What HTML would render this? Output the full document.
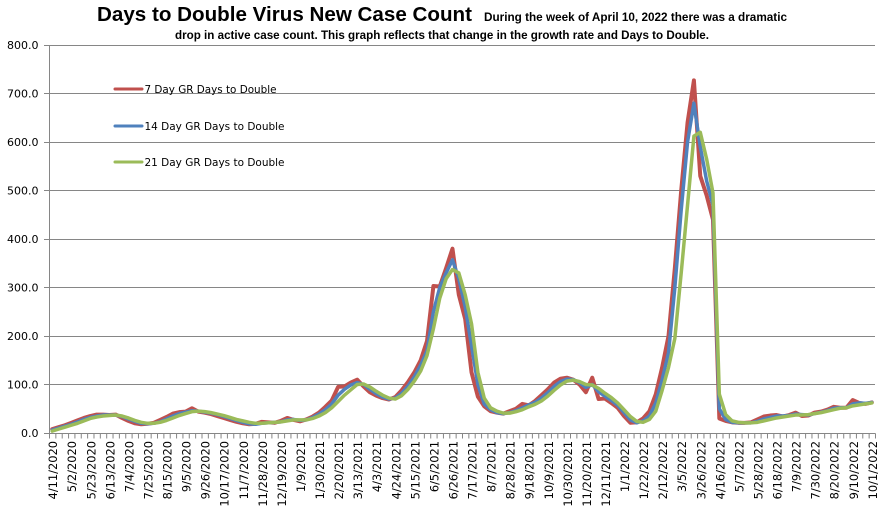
<!DOCTYPE html>
<html>
<head>
<meta charset="utf-8">
<style>
html,body{margin:0;padding:0;background:#fff;}
svg{display:block;}
.ax{font-family:"DejaVu Sans","Liberation Sans",sans-serif;font-size:11px;fill:#000;}
.xl{font-family:"DejaVu Sans","Liberation Sans",sans-serif;font-size:11.4px;fill:#000;}
.lg{font-family:"DejaVu Sans","Liberation Sans",sans-serif;font-size:11px;fill:#000;}
</style>
</head>
<body>
<svg width="887" height="524" viewBox="0 0 887 524" xmlns="http://www.w3.org/2000/svg">
<rect x="0" y="0" width="887" height="524" fill="#fff"/>

<!-- Title -->
<text x="97" y="21" font-family="Liberation Sans, sans-serif" font-weight="bold" font-size="20" textLength="375" lengthAdjust="spacingAndGlyphs">Days to Double Virus New Case Count</text>
<text x="484" y="21" font-family="Liberation Sans, sans-serif" font-weight="bold" font-size="11.5" textLength="303" lengthAdjust="spacingAndGlyphs">During the week of April 10, 2022 there was a dramatic</text>
<text x="175" y="39" font-family="Liberation Sans, sans-serif" font-weight="bold" font-size="11.5" textLength="534" lengthAdjust="spacingAndGlyphs">drop in active case count.  This graph reflects that change in the growth rate and Days to Double.</text>

<!-- Gridlines -->
<g stroke="#868686" stroke-width="1">
<line x1="44" y1="45.5" x2="875" y2="45.5"/>
<line x1="44" y1="93.5" x2="875" y2="93.5"/>
<line x1="44" y1="142.5" x2="875" y2="142.5"/>
<line x1="44" y1="190.5" x2="875" y2="190.5"/>
<line x1="44" y1="239.5" x2="875" y2="239.5"/>
<line x1="44" y1="287.5" x2="875" y2="287.5"/>
<line x1="44" y1="336.5" x2="875" y2="336.5"/>
<line x1="44" y1="384.5" x2="875" y2="384.5"/>
<line x1="44" y1="433.5" x2="875.5" y2="433.5"/>
<line x1="49.5" y1="45" x2="49.5" y2="433.5"/>
<line x1="49" y1="436" x2="876" y2="436" stroke-width="5" stroke-dasharray="1 5.3538"/>
</g>

<!-- Y labels -->
<g class="ax" text-anchor="end">
<text x="38.5" y="49">800.0</text>
<text x="38.5" y="97.5">700.0</text>
<text x="38.5" y="146">600.0</text>
<text x="38.5" y="194.5">500.0</text>
<text x="38.5" y="243">400.0</text>
<text x="38.5" y="291.5">300.0</text>
<text x="38.5" y="340">200.0</text>
<text x="38.5" y="388.5">100.0</text>
<text x="38.5" y="437">0.0</text>
</g>

<!-- X labels -->
<g class="xl" text-anchor="end">
<text transform="translate(57.2,441) rotate(-90)">4/11/2020</text>
<text transform="translate(76.2,441) rotate(-90)">5/2/2020</text>
<text transform="translate(95.3,441) rotate(-90)">5/23/2020</text>
<text transform="translate(114.4,441) rotate(-90)">6/13/2020</text>
<text transform="translate(133.4,441) rotate(-90)">7/4/2020</text>
<text transform="translate(152.5,441) rotate(-90)">7/25/2020</text>
<text transform="translate(171.5,441) rotate(-90)">8/15/2020</text>
<text transform="translate(190.6,441) rotate(-90)">9/5/2020</text>
<text transform="translate(209.7,441) rotate(-90)">9/26/2020</text>
<text transform="translate(228.7,441) rotate(-90)">10/17/2020</text>
<text transform="translate(247.8,441) rotate(-90)">11/7/2020</text>
<text transform="translate(266.9,441) rotate(-90)">11/28/2020</text>
<text transform="translate(285.9,441) rotate(-90)">12/19/2020</text>
<text transform="translate(305.0,441) rotate(-90)">1/9/2021</text>
<text transform="translate(324.0,441) rotate(-90)">1/30/2021</text>
<text transform="translate(343.1,441) rotate(-90)">2/20/2021</text>
<text transform="translate(362.2,441) rotate(-90)">3/13/2021</text>
<text transform="translate(381.2,441) rotate(-90)">4/3/2021</text>
<text transform="translate(400.3,441) rotate(-90)">4/24/2021</text>
<text transform="translate(419.3,441) rotate(-90)">5/15/2021</text>
<text transform="translate(438.4,441) rotate(-90)">6/5/2021</text>
<text transform="translate(457.5,441) rotate(-90)">6/26/2021</text>
<text transform="translate(476.5,441) rotate(-90)">7/17/2021</text>
<text transform="translate(495.6,441) rotate(-90)">8/7/2021</text>
<text transform="translate(514.7,441) rotate(-90)">8/28/2021</text>
<text transform="translate(533.7,441) rotate(-90)">9/18/2021</text>
<text transform="translate(552.8,441) rotate(-90)">10/9/2021</text>
<text transform="translate(571.8,441) rotate(-90)">10/30/2021</text>
<text transform="translate(590.9,441) rotate(-90)">11/20/2021</text>
<text transform="translate(610.0,441) rotate(-90)">12/11/2021</text>
<text transform="translate(629.0,441) rotate(-90)">1/1/2022</text>
<text transform="translate(648.1,441) rotate(-90)">1/22/2022</text>
<text transform="translate(667.1,441) rotate(-90)">2/12/2022</text>
<text transform="translate(686.2,441) rotate(-90)">3/5/2022</text>
<text transform="translate(705.3,441) rotate(-90)">3/26/2022</text>
<text transform="translate(724.3,441) rotate(-90)">4/16/2022</text>
<text transform="translate(743.4,441) rotate(-90)">5/7/2022</text>
<text transform="translate(762.4,441) rotate(-90)">5/28/2022</text>
<text transform="translate(781.5,441) rotate(-90)">6/18/2022</text>
<text transform="translate(800.6,441) rotate(-90)">7/9/2022</text>
<text transform="translate(819.6,441) rotate(-90)">7/30/2022</text>
<text transform="translate(838.7,441) rotate(-90)">8/20/2022</text>
<text transform="translate(857.8,441) rotate(-90)">9/10/2022</text>
<text transform="translate(876.8,441) rotate(-90)">10/1/2022</text>
</g>

<!-- Series -->
<g transform="translate(52.177,433) scale(6.3538,-0.485)" fill="none" stroke-linejoin="round" stroke-linecap="round">
<polyline vector-effect="non-scaling-stroke" stroke="#C0504D" stroke-width="4" points="0,8 1,12 2,16 3,21 4,26 5,31 6,35 7,38 8,38 9,37 10,38 11,31 12,25 13,20 14,18 15,19 16,21 17,27 18,33 19,40 20,43 21,44 22,51 23,44 24,42 25,39 26,35 27,31 28,27 29,23 30,20 31,18 32,19 33,23 34,22 35,21 36,25 37,31 38,27 39,24 40,28 41,34 42,42 43,54 44,67 45,95 46,96 47,104 48,110 49,96 50,84 51,77 52,72 53,69 54,74 55,88 56,105 57,125 58,150 59,190 60,303 61,302 62,340 63,380 64,285 65,235 66,125 67,75 68,55 69,45 70,42 71,40 72,45 73,50 74,60 75,57 76,66 77,78 78,90 79,104 80,112 81,114 82,110 83,100 84,84 85,114 86,70 87,71 88,62 89,52 90,35 91,21 92,22 93,30 94,45 95,80 96,135 97,200 98,340 99,500 100,640 101,727 102,530 103,490 104,440 105,30 106,25 107,22 108,21 109,21 110,22 111,28 112,34 113,36 114,37 115,34 116,37 117,42 118,35 119,36 120,42 121,44 122,48 123,54 124,52 125,52 126,68 127,62 128,60 129,63"/>
<polyline vector-effect="non-scaling-stroke" stroke="#4F81BD" stroke-width="3.5" points="0,6 1,10 2,14 3,18 4,23 5,28 6,32 7,35 8,37 9,37 10,37 11,34 12,29 13,24 14,20 15,19 16,20 17,23 18,29 19,35 20,40 21,43 22,46 23,45 24,43 25,41 26,38 27,34 28,30 29,26 30,22 31,19 32,18 33,20 34,21 35,22 36,23 37,27 38,28 39,26 40,27 41,32 42,39 43,48 44,60 45,78 46,90 47,99 48,104 49,100 50,90 51,81 52,74 53,70 54,72 55,82 56,97 57,116 58,140 59,170 60,250 61,300 62,330 63,357 64,318 65,260 66,180 67,100 68,60 69,48 70,42 71,40 72,42 73,46 74,52 75,58 76,63 77,72 78,83 79,96 80,106 81,111 82,110 83,104 84,94 85,100 86,85 87,76 88,67 89,57 90,42 91,27 92,21 93,25 94,35 95,62 96,110 97,165 98,300 99,460 100,600 101,680 102,590 103,520 104,470 105,50 106,28 107,22 108,21 109,21 110,21 111,24 112,29 113,32 114,35 115,35 116,36 117,39 118,38 119,37 120,40 121,43 122,46 123,51 124,52 125,52 126,60 127,62 128,61 129,63"/>
<polyline vector-effect="non-scaling-stroke" stroke="#9BBB59" stroke-width="3.5" points="0,4 1,8 2,12 3,16 4,20 5,25 6,30 7,33 8,35 9,36 10,37 11,35 12,31 13,26 14,22 15,20 16,20 17,22 18,26 19,31 20,36 21,40 22,44 23,45 24,44 25,42 26,39 27,36 28,32 29,28 30,25 31,22 32,20 33,20 34,21 35,22 36,23 37,25 38,27 39,27 40,27 41,30 42,35 43,42 44,52 45,65 46,78 47,89 48,100 49,101 50,95 51,86 52,78 53,72 54,70 55,77 56,90 57,107 58,128 59,160 60,215 61,278 62,318 63,337 64,330 65,285 66,225 67,125 68,72 69,52 70,45 71,41 72,41 73,44 74,48 75,54 76,59 77,66 78,76 79,88 80,99 81,107 82,109 83,106 84,100 85,99 86,92 87,82 88,73 89,62 90,48 91,34 92,24 93,22 94,28 95,45 96,88 97,135 98,195 99,330 100,470 101,612 102,620 103,565 104,495 105,80 106,38 107,25 108,22 109,21 110,21 111,22 112,25 113,28 114,31 115,33 116,35 117,37 118,37 119,38 120,40 121,42 122,45 123,48 124,51 125,52 126,56 127,58 128,60 129,62"/>
</g>

<!-- Legend -->
<g stroke-width="3" stroke-linecap="round">
<line x1="115" y1="89" x2="142" y2="89" stroke="#C0504D"/>
<line x1="115" y1="126" x2="142" y2="126" stroke="#4F81BD"/>
<line x1="115" y1="162" x2="142" y2="162" stroke="#9BBB59"/>
</g>
<g class="lg">
<text x="144.5" y="93" textLength="132" lengthAdjust="spacingAndGlyphs">7 Day GR Days to Double</text>
<text x="144.5" y="130" textLength="140" lengthAdjust="spacingAndGlyphs">14 Day GR Days to Double</text>
<text x="144.5" y="166" textLength="140" lengthAdjust="spacingAndGlyphs">21 Day GR Days to Double</text>
</g>
</svg>
</body>
</html>
